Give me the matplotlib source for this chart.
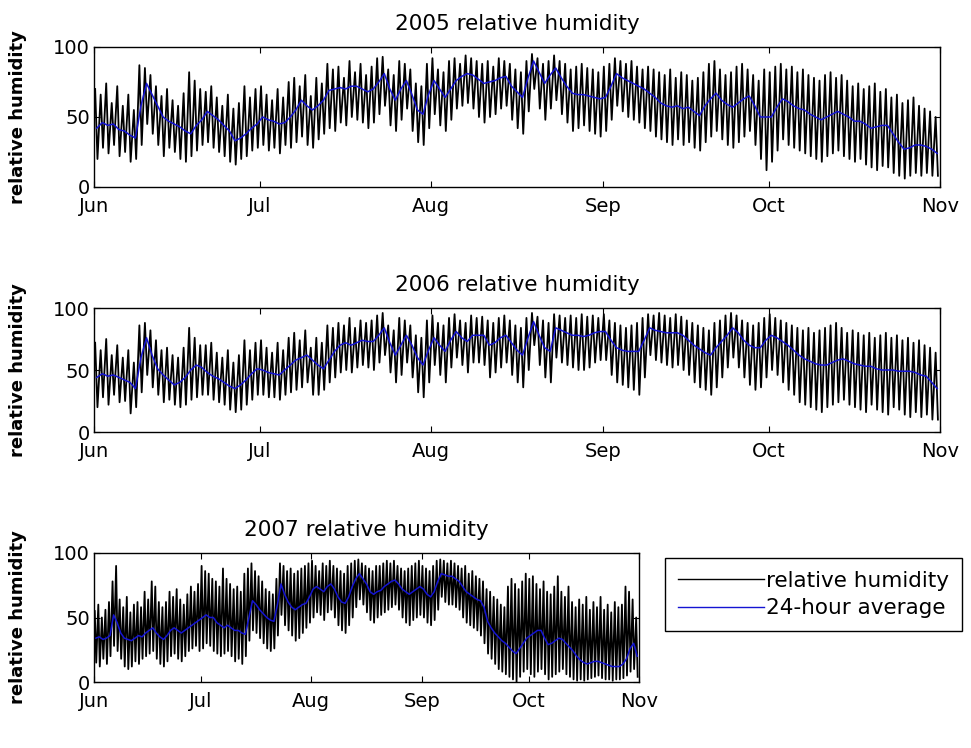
import matplotlib
matplotlib.use('Agg')
import matplotlib.pyplot as plt
import numpy as np

months = ['Jun', 'Jul', 'Aug', 'Sep', 'Oct', 'Nov']
month_start_days = [0, 30, 61, 92, 122, 153]
years = ['2005', '2006', '2007']

# ---- 2005: daily maximum, minimum and 24-hour average (%)
hi05 = [70, 66, 74, 60, 72, 58, 66, 55, 87, 85,
        80, 72, 65, 70, 62, 58, 67, 82, 76, 70,
        68, 72, 64, 58, 66, 56, 60, 72, 64, 70,
        72, 66, 62, 70, 64, 75, 78, 72, 80, 65,
        78, 74, 88, 84, 86, 78, 90, 82, 88, 80,
        86, 92, 93, 84, 80, 90, 88, 84, 74, 72,
        88, 92, 84, 82, 90, 92, 88, 94, 92, 90,
        88, 90, 86, 92, 90, 88, 84, 82, 90, 95,
        92, 88, 90, 94, 90, 88, 84, 86, 88, 85,
        84, 82, 86, 88, 92, 90, 88, 90, 86, 84,
        86, 84, 82, 80, 84, 78, 82, 80, 76, 78,
        82, 88, 90, 84, 80, 82, 86, 88, 84, 80,
        76, 84, 82, 86, 88, 84, 86, 82, 84, 80,
        78, 76, 80, 82, 78, 80, 76, 72, 74, 70,
        72, 74, 68, 70, 64, 66, 60, 62, 64, 58,
        56, 54, 50]
lo05 = [20, 28, 24, 30, 22, 25, 18, 20, 30, 45,
        38, 30, 22, 28, 25, 20, 18, 22, 26, 30,
        32, 28, 25, 22, 18, 16, 20, 22, 26, 28,
        30, 26, 28, 24, 30, 28, 32, 36, 30, 28,
        34, 38, 42, 40, 46, 44, 50, 48, 46, 42,
        46, 52, 58, 44, 40, 48, 56, 40, 32, 30,
        42, 52, 44, 40, 48, 56, 58, 60, 56, 50,
        46, 50, 52, 56, 58, 48, 42, 38, 54, 70,
        56, 48, 56, 62, 52, 46, 40, 42, 44, 40,
        38, 36, 40, 48, 58, 54, 50, 48, 46, 42,
        40, 36, 34, 32, 30, 34, 30, 32, 28, 26,
        32, 36, 40, 34, 30, 28, 32, 36, 40, 30,
        20, 12, 18, 26, 34, 30, 28, 26, 24, 22,
        20, 18, 22, 24, 26, 22, 20, 18, 20, 16,
        14, 12, 15, 14, 10, 8, 6, 8, 10, 8,
        10, 8, 8]
avg05 = [42, 46, 44, 45, 41, 40, 37, 35, 58, 74,
         66, 58, 50, 47, 45, 43, 40, 38, 44, 48,
         54, 51, 48, 44, 40, 33, 35, 38, 42, 45,
         50, 48, 47, 45, 46, 50, 55, 62, 58, 55,
         58, 62, 69, 70, 71, 70, 72, 72, 70, 68,
         70, 75, 81, 70, 62, 70, 76, 66, 55, 52,
         66, 76, 70, 64, 70, 76, 79, 81, 80, 77,
         74, 75, 76, 78, 79, 72, 68, 64, 78, 90,
         82, 74, 80, 85, 78, 72, 67, 66, 66, 65,
         64, 63, 64, 72, 81, 78, 76, 74, 72, 70,
         67, 64, 60, 58, 57, 58, 56, 57, 54, 51,
         58, 63, 67, 62, 59, 57, 60, 63, 65, 58,
         50, 50, 50, 57, 63, 61, 58, 56, 55, 52,
         50, 48, 50, 52, 54, 52, 50, 47, 47, 45,
         42, 43, 44, 44, 38, 32, 27, 28, 30, 30,
         29, 27, 24]

# ---- 2006
hi06 = [72, 66, 75, 62, 70, 60, 66, 56, 86, 88,
        82, 74, 66, 68, 62, 60, 68, 84, 76, 70,
        70, 72, 64, 60, 66, 56, 62, 74, 66, 72,
        74, 68, 64, 72, 66, 76, 80, 74, 82, 68,
        76, 72, 86, 84, 88, 86, 92, 84, 90, 88,
        90, 94, 96, 86, 82, 92, 90, 86, 78, 76,
        90, 94, 88, 86, 92, 95, 90, 88, 94, 92,
        93, 90, 88, 92, 94, 90, 86, 84, 92, 96,
        93, 90, 88, 95, 94, 92, 94, 92, 95, 93,
        94, 92, 95, 90, 88, 86, 84, 86, 88, 92,
        95, 94, 96, 94, 92, 95, 93, 90, 88, 86,
        84, 82, 88, 90, 94, 96, 94, 90, 88, 86,
        88, 92, 95, 92, 90, 88, 86, 84, 82, 84,
        80, 82, 84, 86, 88, 84, 80, 82, 80, 78,
        80, 76, 78, 80, 76, 78, 74, 76, 72, 74,
        70, 68, 64]
lo06 = [20, 28, 22, 30, 24, 25, 15, 20, 32, 46,
        36, 30, 24, 26, 22, 20, 22, 26, 28, 30,
        30, 26, 24, 22, 18, 16, 18, 22, 26, 30,
        30, 28, 28, 26, 30, 32, 34, 36, 40, 30,
        30, 34, 40, 44, 48, 50, 48, 52, 54, 52,
        50, 56, 62, 48, 40, 46, 56, 44, 32, 28,
        40, 54, 46, 40, 52, 60, 54, 48, 56, 56,
        54, 44, 48, 52, 56, 46, 40, 36, 50, 70,
        54, 44, 40, 60, 56, 54, 52, 50, 50, 52,
        56, 58, 58, 46, 40, 38, 36, 34, 30, 44,
        62, 58, 56, 54, 52, 54, 50, 46, 40, 36,
        34, 30, 36, 44, 52, 60, 52, 44, 38, 34,
        36, 44, 50, 46, 40, 34, 30, 24, 22, 20,
        18, 16, 20, 22, 24, 26, 22, 20, 18, 16,
        22, 18, 16, 14, 20, 18, 14, 12, 16, 12,
        14, 10, 10]
avg06 = [44, 47, 45, 46, 44, 42, 40, 35, 60, 76,
         62, 51, 46, 42, 38, 40, 44, 50, 54, 52,
         48, 45, 43, 40, 37, 35, 38, 42, 47, 51,
         50, 48, 47, 46, 50, 54, 58, 60, 62, 58,
         54, 51, 58, 65, 70, 72, 70, 72, 74, 73,
         73, 78, 84, 72, 62, 70, 78, 70, 60, 54,
         66, 76, 70, 65, 74, 81, 76, 73, 78, 78,
         78, 70, 72, 76, 78, 72, 66, 62, 76, 89,
         78, 68, 65, 84, 82, 80, 78, 78, 77, 78,
         80, 81, 81, 74, 68, 66, 65, 65, 65, 74,
         84, 82, 81, 80, 80, 80, 78, 74, 70, 67,
         64, 62, 68, 73, 78, 84, 80, 74, 70, 68,
         68, 74, 78, 76, 73, 70, 66, 62, 59, 57,
         55, 54, 54, 56, 58, 59, 57, 55, 54, 53,
         53, 51, 50, 50, 50, 49, 49, 49, 48, 46,
         45, 40, 35]

# ---- 2007
hi07 = [55, 60, 50, 56, 62, 78, 90, 64, 58, 66,
        54, 60, 62, 58, 70, 64, 78, 74, 62, 58,
        62, 70, 66, 72, 64, 60, 68, 74, 70, 76,
        90, 86, 84, 80, 78, 74, 88, 80, 76, 72,
        74, 70, 84, 88, 92, 86, 82, 78, 72, 70,
        68, 80, 92, 90, 86, 88, 84, 86, 88, 90,
        92, 94, 90, 86, 92, 90, 94, 90, 88, 86,
        84, 90, 92, 94, 95, 92, 90, 88, 86, 90,
        90, 92, 94, 92, 94, 90, 88, 86, 88, 90,
        92, 94, 90, 88, 86, 90, 94, 95, 94, 92,
        94, 92, 90, 88, 90, 84, 86, 82, 80, 78,
        72, 70, 66, 64, 60, 58, 74, 80, 76, 72,
        78, 84, 80, 82, 76, 72, 78, 70, 68, 74,
        82, 70, 66, 74, 62, 58, 64, 60, 66, 56,
        62, 58, 66, 56, 60, 54, 62, 58, 60, 74,
        70, 64, 50]
lo07 = [15, 12, 18, 14, 20, 28, 24, 18, 12, 10,
        12, 16, 14, 18, 20, 22, 24, 18, 14, 12,
        16, 20, 22, 18, 16, 20, 24, 26, 28, 24,
        26, 30, 28, 24, 22, 20, 22, 24, 20, 16,
        18, 14, 20, 32, 40, 38, 34, 30, 26, 24,
        26, 36, 52, 44, 40, 36, 32, 34, 38, 42,
        46, 50, 54, 52, 48, 54, 56, 50, 44, 40,
        38, 44, 50, 58, 64, 60, 54, 48, 46, 50,
        52, 54, 56, 58, 60, 56, 50, 46, 44, 48,
        50, 52, 50, 46, 44, 48, 56, 66, 62, 60,
        60, 58, 56, 50, 46, 44, 42, 40, 36, 30,
        22, 18, 14, 10, 8, 6, 4, 2, 0, 4,
        8, 10, 6, 4, 8, 10, 6, 2, 4, 6,
        8, 10, 6, 4, 2, 1, 2, 1, 2, 3,
        4, 5, 3, 2, 2, 1, 2, 2, 3, 5,
        8, 10, 4]
avg07 = [34, 35, 33, 34, 36, 52, 46, 38, 34, 33,
         32, 34, 36, 35, 38, 40, 42, 38, 35, 33,
         36, 40, 42, 40, 38, 40, 42, 44, 46, 48,
         50, 52, 50, 50, 46, 44, 42, 44, 42, 40,
         40, 38, 37, 50, 63, 60, 56, 53, 50, 48,
         47, 60, 76, 68, 62, 58, 56, 58, 60, 61,
         66, 72, 74, 72, 70, 74, 76, 72, 66, 62,
         61, 66, 74, 80, 84, 80, 76, 70, 68, 70,
         71, 74, 76, 78, 79, 76, 72, 70, 68, 70,
         72, 74, 72, 68, 66, 70, 78, 84, 83, 82,
         82, 80, 78, 74, 70, 68, 66, 64, 63, 58,
         47, 42, 38, 35, 32, 30, 27, 24, 22, 26,
         30, 34, 36, 38, 40, 40, 34, 29, 30, 32,
         34, 33, 30, 27, 24, 20, 17, 15, 14, 15,
         16, 16, 15, 14, 13, 12, 12, 12, 14, 18,
         26, 30, 20]

data = {'2005': (hi05, lo05, avg05),
        '2006': (hi06, lo06, avg06),
        '2007': (hi07, lo07, avg07)}

W, H = 971, 748
# axes boxes in pixels: left, top, right, bottom
boxes = {'2005': (94, 47, 940, 187),
         '2006': (94, 308, 940, 432),
         '2007': (94, 553, 639, 682)}

plt.rcParams['font.family'] = ['DejaVu Sans']
fig = plt.figure(figsize=(W / 100, H / 100), dpi=100)

blue = '#1414d2'
handles = None
for year in years:
    hi, lo, avg = data[year]
    l, t, r, b = boxes[year]
    ax = fig.add_axes([l / W, 1 - b / H, (r - l) / W, (b - t) / H])
    n = len(hi)
    days = np.arange(n)
    tt = np.empty(2 * n)
    vv = np.empty(2 * n)
    tt[0::2] = days + 5 / 24
    vv[0::2] = hi
    tt[1::2] = days + 15 / 24
    vv[1::2] = lo
    h1, = ax.plot(tt, vv, color='black', lw=1.3, label='relative humidity')
    h2, = ax.plot(days + 0.5, avg, color=blue, lw=1.1, label='24-hour average')
    handles = [h1, h2]
    ax.set_xlim(0, 153)
    ax.set_ylim(0, 100)
    ax.set_xticks(month_start_days)
    ax.set_xticklabels(months)
    ax.set_yticks([0, 50, 100])
    ax.tick_params(direction='in', top=True, right=True, length=4,
                   labelsize=14, width=0.8)
    ax.tick_params(axis='x', pad=7)
    ax.tick_params(axis='y', pad=3)
    for s in ax.spines.values():
        s.set_linewidth(1.0)
    ax.set_title(f'{year} relative humidity', fontsize=15.5, pad=12)
    ax.set_ylabel('relative humidity', fontsize=13, fontweight='bold')
    ax.yaxis.set_label_coords(-(l - 27) / (r - l), 0.5)

leg_handles = [plt.Line2D([], [], color='black', lw=1.0),
               plt.Line2D([], [], color=blue, lw=1.0)]
leg = fig.legend(leg_handles, ['relative humidity', '24-hour average'],
                 loc='upper left', bbox_to_anchor=(665 / W, 1 - 558 / H),
                 fontsize=15.5, frameon=True, fancybox=False,
                 edgecolor='black', framealpha=1, borderpad=0.6,
                 labelspacing=0.35, handlelength=4.0, handletextpad=0.1,
                 borderaxespad=0)
leg.get_frame().set_linewidth(1.0)

fig.savefig('out.png', dpi=100)
